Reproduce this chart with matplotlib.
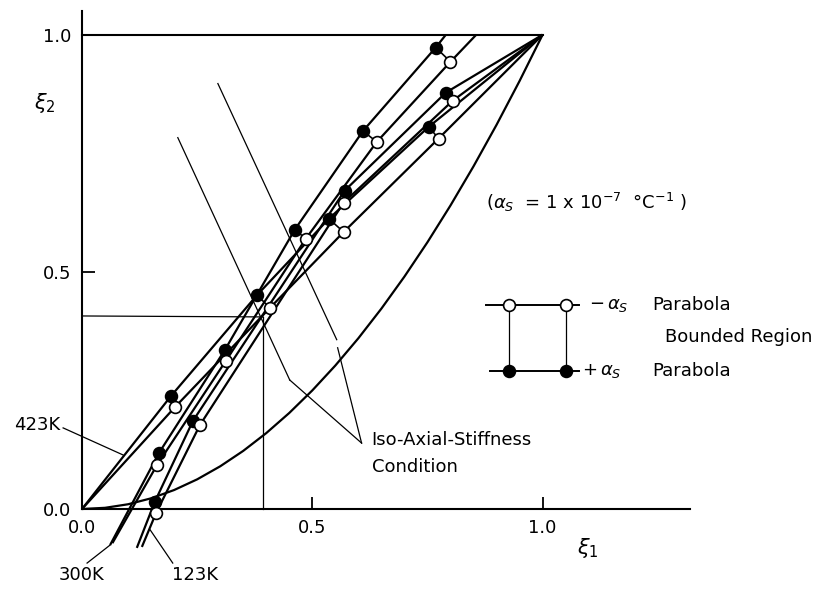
import matplotlib
matplotlib.use('Agg')
import matplotlib.pyplot as plt

plt.rcParams['font.family'] = ['DejaVu Sans']
plt.rcParams['mathtext.fontset'] = 'dejavusans'

# ---- data ----
# 423K pair (from origin to (1,1))
k423_plus_x = [0.0, 0.193, 0.380, 0.536, 0.753, 1.0]
k423_plus_y = [0.0, 0.238, 0.451, 0.612, 0.806, 1.0]
k423_minus_x = [0.0, 0.202, 0.408, 0.568, 0.774, 1.0]
k423_minus_y = [0.0, 0.215, 0.424, 0.584, 0.781, 1.0]
# 300K pair
k300_plus_x = [0.061, 0.167, 0.310, 0.462, 0.610, 0.768, 0.790]
k300_plus_y = [-0.076, 0.118, 0.335, 0.589, 0.797, 0.973, 1.0]
k300_minus_x = [0.066, 0.163, 0.312, 0.486, 0.640, 0.800, 0.856]
k300_minus_y = [-0.072, 0.093, 0.312, 0.570, 0.774, 0.943, 1.0]
# 123K pair
k123_plus_x = [0.119, 0.158, 0.241, 0.570, 0.790, 1.0]
k123_plus_y = [-0.082, 0.015, 0.186, 0.671, 0.878, 1.0]
k123_minus_x = [0.130, 0.161, 0.256, 0.568, 0.805, 1.0]
k123_minus_y = [-0.080, -0.008, 0.177, 0.646, 0.861, 1.0]

# +alpha_s (filled) and -alpha_s (open) markers
plus_mx = [0.768, 0.790, 0.753, 0.610, 0.570, 0.536, 0.462, 0.380, 0.310, 0.193, 0.241, 0.167, 0.158]
plus_my = [0.973, 0.878, 0.806, 0.797, 0.671, 0.612, 0.589, 0.451, 0.335, 0.238, 0.186, 0.118, 0.015]
minus_mx = [0.800, 0.805, 0.774, 0.640, 0.568, 0.568, 0.486, 0.408, 0.312, 0.202, 0.256, 0.163, 0.161]
minus_my = [0.943, 0.861, 0.781, 0.774, 0.646, 0.584, 0.570, 0.424, 0.312, 0.215, 0.177, 0.093, -0.008]

# lower bounding parabola
bound_x = [0.0, 0.05, 0.1, 0.15, 0.2, 0.25, 0.3, 0.35, 0.4, 0.45, 0.5,
           0.55, 0.6, 0.65, 0.7, 0.75, 0.8, 0.85, 0.9, 0.95, 1.0]
bound_y = [0.0, 0.0025, 0.01, 0.0225, 0.04, 0.0625, 0.09, 0.1225, 0.16, 0.2025, 0.25,
           0.3025, 0.36, 0.4225, 0.49, 0.5625, 0.64, 0.7225, 0.81, 0.9025, 1.0]

# iso-axial-stiffness lines
isoA_x = [0.208, 0.451]
isoA_y = [0.783, 0.272]
isoB_x = [0.295, 0.553]
isoB_y = [0.897, 0.357]
cross_x = 0.393
cross_y = 0.405

tick_vals = [0.0, 0.5, 1.0]
tick_labels = ['0.0', '0.5', '1.0']

# ---- figure ----
fig = plt.figure(figsize=(8.13, 5.90), dpi=100)
ax = fig.add_axes([82 / 813, 81 / 590, 608 / 813, 498 / 590])
ax.set_xlim(0, 1.32)
ax.set_ylim(0, 1.05)

for s in ['top', 'right']:
    ax.spines[s].set_visible(False)
for s in ['left', 'bottom']:
    ax.spines[s].set_linewidth(1.5)

ax.set_xticks(tick_vals)
ax.set_xticklabels(tick_labels)
ax.set_yticks(tick_vals)
ax.set_yticklabels(tick_labels)
ax.tick_params(direction='in', length=9, width=1.3, labelsize=13)
ax.tick_params(axis='x', pad=7)
ax.tick_params(axis='y', pad=8)

LW = 1.6
kw = dict(color='black', lw=LW, clip_on=False, zorder=2, solid_capstyle='butt',
          solid_joinstyle='round')
# top bound line and lower parabola
ax.plot([0.0, 1.0], [1.0, 1.0], color='black', lw=1.5, clip_on=False, zorder=2)
ax.plot(bound_x, bound_y, **kw)

for xs, ys in [(k423_plus_x, k423_plus_y), (k423_minus_x, k423_minus_y),
               (k300_plus_x, k300_plus_y), (k300_minus_x, k300_minus_y),
               (k123_plus_x, k123_plus_y), (k123_minus_x, k123_minus_y)]:
    ax.plot(xs, ys, **kw)

# connectors between paired markers
for px_, py_, mx_, my_ in zip(plus_mx, plus_my, minus_mx, minus_my):
    ax.plot([px_, mx_], [py_, my_], color='black', lw=1.2, clip_on=False, zorder=3)

ax.plot(plus_mx, plus_my, 'o', ms=8.5, mfc='black', mec='black', mew=1.2,
        clip_on=False, zorder=4)
ax.plot(minus_mx, minus_my, 'o', ms=8.5, mfc='white', mec='black', mew=1.2,
        clip_on=False, zorder=4)

thin = dict(color='black', lw=0.9, clip_on=False, zorder=1)
ax.plot(isoA_x, isoA_y, **thin)
ax.plot(isoB_x, isoB_y, **thin)
ax.plot([0.0, cross_x], [0.407, cross_y], **thin)
ax.plot([cross_x, cross_x], [cross_y, 0.0], **thin)
# leaders
ax.plot([0.451, 0.607], [0.272, 0.139], **thin)
ax.plot([0.555, 0.607], [0.340, 0.139], **thin)
ax.plot([-0.041, 0.089], [0.171, 0.114], **thin)
ax.plot([0.011, 0.061], [-0.114, -0.076], **thin)
ax.plot([0.148, 0.197], [-0.044, -0.114], **thin)

fs = 13
ax.text(-0.048, 0.177, '423K', fontsize=fs, ha='right', va='center')
ax.text(-0.002, -0.139, '300K', fontsize=fs, ha='center', va='center')
ax.text(0.245, -0.139, '123K', fontsize=fs, ha='center', va='center')
ax.text(0.629, 0.146, 'Iso-Axial-Stiffness', fontsize=fs, ha='left', va='center')
ax.text(0.629, 0.089, 'Condition', fontsize=fs, ha='left', va='center')
ax.text(0.878, 0.646, r'($\alpha_S$  = 1 x 10$^{-7}$  °C$^{-1}$ )', fontsize=fs,
        ha='left', va='center')

ax.text(-0.080, 0.857, r'$\xi_2$', fontsize=15, ha='center', va='center')
ax.text(1.098, -0.082, r'$\xi_1$', fontsize=15, ha='center', va='center')

# legend drawn as a small diagram
leg_top_y = 0.430
leg_bot_y = 0.291
ax.plot([0.878, 1.080], [leg_top_y, leg_top_y], color='black', lw=1.4, clip_on=False)
ax.plot([0.885, 1.080], [leg_bot_y, leg_bot_y], color='black', lw=1.4, clip_on=False)
for lx in [0.926, 1.050]:
    ax.plot([lx, lx], [leg_bot_y, leg_top_y], color='black', lw=0.9, clip_on=False)
ax.plot([0.926, 1.050], [leg_top_y, leg_top_y], 'o', ms=8.5, mfc='white', mec='black',
        mew=1.2, clip_on=False, zorder=4)
ax.plot([0.926, 1.050], [leg_bot_y, leg_bot_y], 'o', ms=8.5, mfc='black', mec='black',
        mew=1.2, clip_on=False, zorder=4)
ax.text(1.100, leg_top_y, r'$-\,\alpha_S$', fontsize=fs, ha='left', va='center')
ax.text(1.239, leg_top_y, 'Parabola', fontsize=fs, ha='left', va='center')
ax.text(1.265, 0.363, 'Bounded Region', fontsize=fs, ha='left', va='center')
ax.text(1.085, leg_bot_y, r'$+\,\alpha_S$', fontsize=fs, ha='left', va='center')
ax.text(1.239, leg_bot_y, 'Parabola', fontsize=fs, ha='left', va='center')

fig.savefig('out.png', dpi=100)
